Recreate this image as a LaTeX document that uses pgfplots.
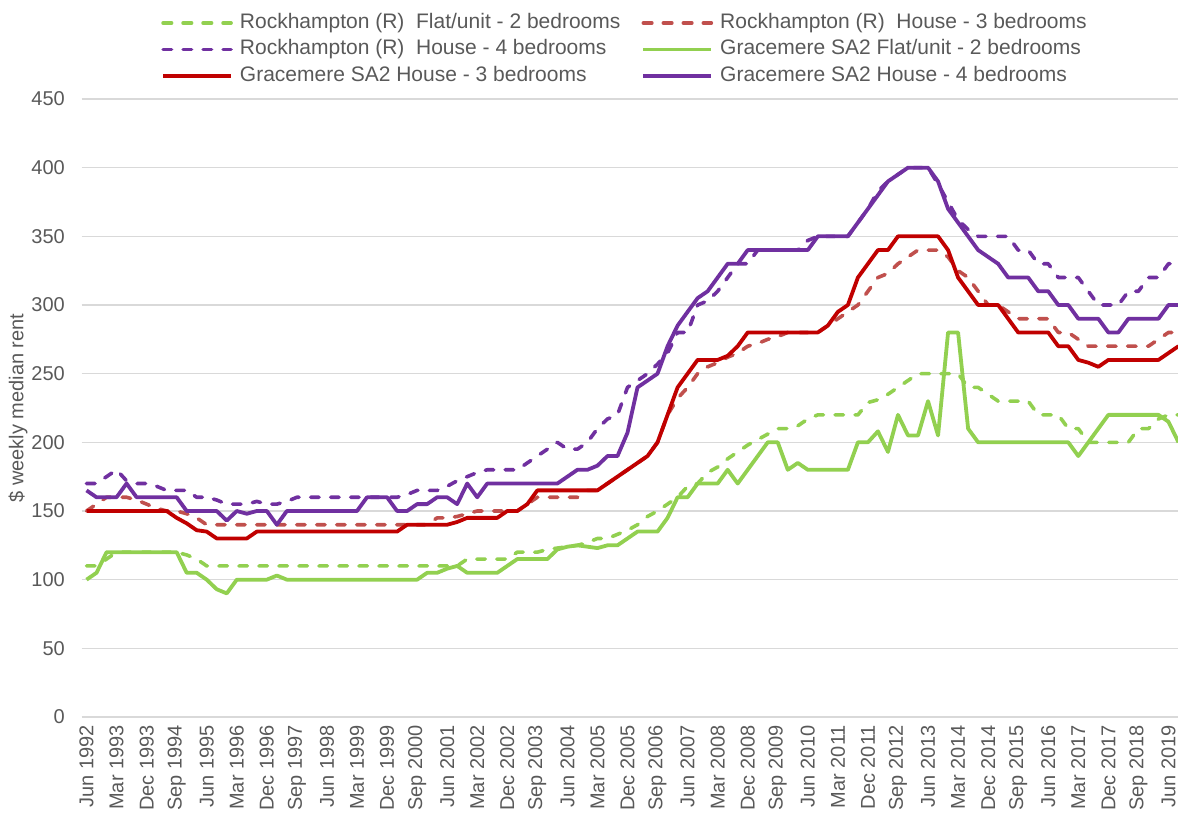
\documentclass[border=0pt]{standalone}
\usepackage{fontspec}
\setmainfont{Liberation Sans}
\usepackage{pgfplots}
\usepackage{pgfplotstable}
\pgfplotsset{compat=1.18}
\definecolor{cgreen}{HTML}{92D050}
\definecolor{cred}{HTML}{C0504D}
\definecolor{cdred}{HTML}{C00000}
\definecolor{cpurple}{HTML}{7030A0}
\definecolor{tgray}{HTML}{595959}
\definecolor{ggray}{HTML}{D9D9D9}

% A = Rockhampton flat 2br, B = Rockhampton house 3br, C = Rockhampton house 4br
% D = Gracemere flat 2br,  E = Gracemere house 3br,  F = Gracemere house 4br
\pgfplotstableread{
i A B C D E F
0 110 150 170 100 150 165
1 110 155 170 105 150 160
2 115 160 175 120 150 160
3 120 160 180 120 150 160
4 120 160 172 120 150 170
5 120 158 170 120 150 160
6 120 155 170 120 150 160
7 120 152 168 120 150 160
8 120 150 165 120 150 160
9 120 150 165 120 145 160
10 118 148 165 105 141 150
11 115 145 160 105 136 150
12 110 140 160 100 135 150
13 110 140 158 93 130 150
14 110 140 155 90 130 143
15 110 140 155 100 130 150
16 110 140 155 100 130 148
17 110 140 157 100 135 150
18 110 140 155 100 135 150
19 110 140 155 103 135 140
20 110 140 157 100 135 150
21 110 140 160 100 135 150
22 110 140 160 100 135 150
23 110 140 160 100 135 150
24 110 140 160 100 135 150
25 110 140 160 100 135 150
26 110 140 160 100 135 150
27 110 140 160 100 135 150
28 110 140 160 100 135 160
29 110 140 160 100 135 160
30 110 140 160 100 135 160
31 110 140 160 100 135 150
32 110 140 162 100 140 150
33 110 140 165 100 140 155
34 110 140 165 105 140 155
35 110 145 165 105 140 160
36 110 145 168 108 140 160
37 110 146 172 110 142 155
38 115 148 175 105 145 170
39 115 150 178 105 145 160
40 115 150 180 105 145 170
41 115 150 180 105 145 170
42 115 150 180 110 150 170
43 120 150 180 115 150 170
44 120 155 185 115 155 170
45 120 160 190 115 165 170
46 122 160 195 115 165 170
47 123 160 200 122 165 170
48 124 160 195 124 165 175
49 125 160 195 125 165 180
50 127 165 200 124 165 180
51 130 165 210 123 165 183
52 130 170 217 125 170 190
53 133 175 220 125 175 190
54 136 180 240 130 180 207
55 140 185 245 135 185 240
56 146 190 250 135 190 245
57 150 200 257 135 200 250
58 155 220 265 145 220 270
59 160 232 280 160 240 285
60 168 240 280 160 250 295
61 170 250 300 170 260 305
62 178 255 303 170 260 310
63 182 258 310 170 260 320
64 188 262 320 180 263 330
65 193 265 330 170 270 330
66 198 270 330 180 280 340
67 202 272 340 190 280 340
68 206 275 340 200 280 340
69 210 277 340 200 280 340
70 210 280 340 180 280 340
71 212 280 340 185 280 340
72 217 280 347 180 280 340
73 220 280 350 180 280 350
74 220 285 350 180 285 350
75 220 290 350 180 295 350
76 220 295 350 180 300 350
77 220 300 360 200 320 360
78 229 310 370 200 330 370
79 231 320 383 208 340 380
80 235 323 390 193 340 390
81 240 330 395 220 350 395
82 245 335 400 205 350 400
83 250 340 400 205 350 400
84 250 340 400 230 350 400
85 250 340 388 205 350 390
86 250 335 375 280 340 370
87 250 325 362 280 320 360
88 240 320 355 210 310 350
89 240 310 350 200 300 340
90 235 300 350 200 300 335
91 230 300 350 200 300 330
92 230 295 350 200 290 320
93 230 290 340 200 280 320
94 230 290 340 200 280 320
95 220 290 330 200 280 310
96 220 290 330 200 280 310
97 220 280 320 200 270 300
98 210 280 320 200 270 300
99 210 275 320 190 260 290
100 200 270 310 200 258 290
101 200 270 300 210 255 290
102 200 270 300 220 260 280
103 200 270 300 220 260 280
104 200 270 310 220 260 290
105 210 270 310 220 260 290
106 210 270 320 220 260 290
107 217 275 320 220 260 290
108 220 280 330 215 265 300
109 220 280 330 200 270 300
}\rents

\begin{document}
\begin{tikzpicture}
\begin{axis}[
  at={(0pt,0pt)}, anchor=south west,
  scale only axis, width=1096.3pt, height=618pt,
  xmin=-0.48, xmax=108.95, ymin=0, ymax=450,
  xtick={0,3,...,108},
  xticklabels={Jun 1992,Mar 1993,Dec 1993,Sep 1994,Jun 1995,Mar 1996,Dec 1996,Sep 1997,Jun 1998,Mar 1999,Dec 1999,Sep 2000,Jun 2001,Mar 2002,Dec 2002,Sep 2003,Jun 2004,Mar 2005,Dec 2005,Sep 2006,Jun 2007,Mar 2008,Dec 2008,Sep 2009,Jun 2010,Mar 2011,Dec 2011,Sep 2012,Jun 2013,Mar 2014,Dec 2014,Sep 2015,Jun 2016,Mar 2017,Dec 2017,Sep 2018,Jun 2019},
  ytick={0,50,...,450},
  ymajorgrids, grid style={ggray, line width=1.5pt},
  axis line style={draw=none},
  major tick length=0pt,
  /pgf/number format/assume math mode=true,
  tick label style={font=\fontsize{20}{24}\selectfont, text=tgray},
  xticklabel style={yshift=-8pt, rotate=90, anchor=east, inner sep=0pt},
  yticklabel style={anchor=east, inner sep=0pt, xshift=-16.7pt},
  ylabel={\$ weekly median rent},
  ylabel style={at={(axis description cs:-0.0581,0.5)}, anchor=center, font=\fontsize{20}{24}\selectfont, text=tgray},
  legend columns=2,
  legend cell align=left,
  legend style={at={(axis description cs:0.0723,1.139)}, anchor=north west, draw=none, fill=none, inner sep=0pt,
    font=\fontsize{21}{25}\selectfont, text=tgray,
    nodes={inner sep=0pt, text height=15pt, text depth=4.5pt},
    row sep=7pt,
    /tikz/every even column/.append style={column sep=21pt},
    /tikz/every odd column/.append style={column sep=7pt}},
  legend image code/.code={\draw[#1] (0pt,0pt) -- (68pt,0pt);},
]
\addplot[cgreen, line width=3.6pt, dash pattern=on 8.5pt off 11.5pt, line cap=round, line join=round] table[x=i,y=A]{\rents};
\addlegendentry{Rockhampton (R)\ \ Flat/unit - 2 bedrooms}
\addplot[cred, line width=3.6pt, dash pattern=on 8.5pt off 11.5pt, line cap=round, line join=round] table[x=i,y=B]{\rents};
\addlegendentry{Rockhampton (R)\ \ House - 3 bedrooms}
\addplot[cpurple, line width=3.6pt, dash pattern=on 8.5pt off 11.5pt, line cap=round, line join=round] table[x=i,y=C]{\rents};
\addlegendentry{Rockhampton (R)\ \ House - 4 bedrooms}
\addplot[cgreen, line width=3.8pt, line join=round] table[x=i,y=D]{\rents};
\addlegendentry{Gracemere SA2 Flat/unit - 2 bedrooms}
\addplot[cdred, line width=3.8pt, line join=round] table[x=i,y=E]{\rents};
\addlegendentry{Gracemere SA2 House - 3 bedrooms}
\addplot[cpurple, line width=3.8pt, line join=round] table[x=i,y=F]{\rents};
\addlegendentry{Gracemere SA2 House - 4 bedrooms}
\end{axis}
\pgfresetboundingbox
\useasboundingbox (-81.7pt,-102pt) rectangle (1096.3pt,717pt);
\end{tikzpicture}
\end{document}
